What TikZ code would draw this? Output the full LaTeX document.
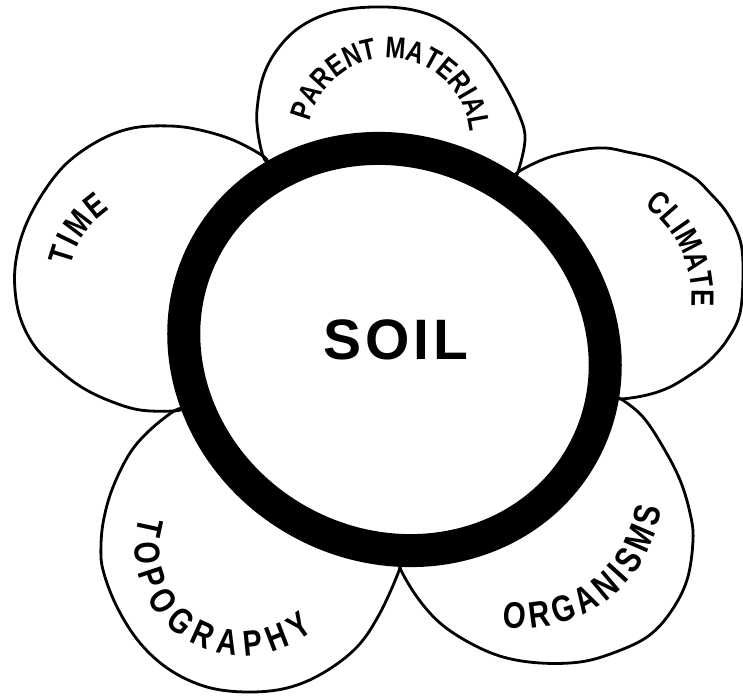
\documentclass[tikz,border=0pt]{standalone}
\usepackage{fontspec}
\setmainfont{Liberation Sans}
\newfontfamily\labfont[FakeStretch=0.8]{Liberation Sans Bold}
\newfontfamily\soilfont{Liberation Sans Bold}
\usetikzlibrary{decorations.text}
\begin{document}
\begin{tikzpicture}[x=1pt,y=1pt,
  petal/.style={line width=2.8pt, line join=round, line cap=round},
  ringline/.style={line width=33pt},
  arctext/.style={decorate, decoration={text along path, text align=fit to path, text={#1}}}
]
\useasboundingbox (0,0) rectangle (743,696);
% junctions (slightly inside the ring)
\coordinate (jTP) at (268.6,531.7);
\coordinate (jPC) at (512.3,515.8);
\coordinate (jCO) at (611.2,299.1);
\coordinate (jOT) at (399.7,139);
\coordinate (jTT) at (183.6,287.7);
\coordinate (ringc) at (394.5,346.5);
% petals
\draw[petal] plot[smooth, tension=0.6] coordinates {(jTP) (263,540) (258,563) (257,586) (263,619) (277,646) (300,669) (333,684) (373,689) (413,686) (447,673) (480,646) (503,613) (520,579) (525,556) (518,524) (jPC)};
\draw[petal] plot[smooth, tension=0.6] coordinates {(jTP) (263,540) (233,556) (200,566) (170,570) (133,568) (100,556) (67,533) (43,503) (25,469) (16,436) (15,406) (21,376) (36,348) (60,325) (83,308) (110,295) (140,286) (174,285) (jTT)};
\draw[petal] plot[smooth, tension=0.6] coordinates {(jPC) (518,524) (547,538) (580,546) (605,548) (627,544) (660,536) (693,519) (710,503) (727,483) (740,456) (743,426) (740,383) (727,356) (710,336) (693,323) (670,309) (647,301) (621,297) (jCO)};
\draw[petal] plot[smooth, tension=0.6] coordinates {(jCO) (621,297) (643,279) (663,249) (680,216) (690,183) (693,156) (687,116) (670,83) (647,59) (613,43) (580,34) (540,33) (503,39) (470,53) (440,73) (417,99) (400,128) (jOT)};
\draw[petal] plot[smooth, tension=0.6] coordinates {(jOT) (400,128) (380,83) (357,49) (323,23) (287,8) (247,4) (207,9) (170,26) (140,53) (117,89) (103,126) (101,151) (104,178) (113,209) (130,243) (150,266) (174,285) (jTT)};
% ring
\draw[ringline, rotate around={-29.3:(ringc)}] (ringc) ellipse [x radius=215, y radius=196.5];
% centre label
\node[anchor=base, inner sep=0pt, font=\soilfont\fontsize{57}{60}\selectfont] (soil) at (395.5,336) {S\kern4pt O\kern4pt I\kern4pt L};
% petal labels
\coordinate (cPM) at (389,557);
\coordinate (cTI) at (160,410);
\coordinate (cCL) at (580,399);
\coordinate (cOR) at (523,208);
\coordinate (cTO) at (243,148);
\path[arctext={|\labfont\fontsize{30}{30}\selectfont|PARENT MATERIAL}] (cPM) ++(167.5:80.9) arc[start angle=167.5, end angle=5.1, radius=80.9];
\path[arctext={|\labfont\fontsize{34}{34}\selectfont|TIME}] (cTI) ++(168:91.5) arc[start angle=168, end angle=123, radius=91.5];
\path[arctext={|\labfont\fontsize{32}{32}\selectfont|CLIMATE}] (cCL) ++(54.8:111.5) arc[start angle=54.8, end angle=-5, radius=111.5];
\path[arctext={|\labfont\fontsize{37}{37}\selectfont|ORGANISMS}] (cOR) ++(-98.3:140.2) arc[start angle=-98.3, end angle=-8.3, radius=140.2];
\path[arctext={|\labfont\fontsize{36}{36}\selectfont|TOPOGRAPHY}] (cTO) ++(163.2:107.9) arc[start angle=163.2, end angle=310.8, radius=107.9];
\end{tikzpicture}
\end{document}
